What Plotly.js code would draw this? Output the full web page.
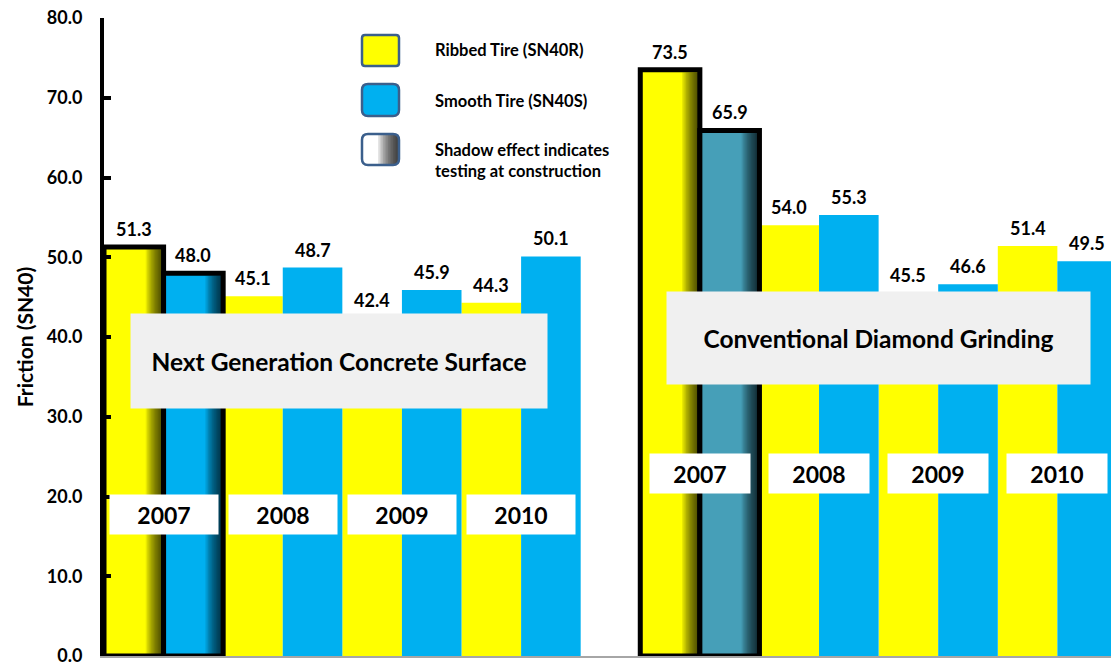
<!DOCTYPE html>
<html><head><meta charset="utf-8">
<script src="https://cdn.plot.ly/plotly-3.0.1.min.js"></script>
<style>html,body{margin:0;padding:0;overflow:hidden;background:#fff}</style>
</head><body><div id="chart" style="width:1111px;height:665px"></div>
<script>
const years = ['2007', '2008', '2009', '2010'];
const ngcsRibbed = [51.3, 45.1, 42.4, 44.3];
const ngcsSmooth = [48.0, 48.7, 45.9, 50.1];
const cdgRibbed = [73.5, 54.0, 45.5, 51.4];
const cdgSmooth = [65.9, 55.3, 46.6, 49.5];
const groupNames = ['Next Generation Concrete Surface', 'Conventional Diamond Grinding'];
const legendLabels = ['Ribbed Tire (SN40R)', 'Smooth Tire (SN40S)', 'Shadow effect indicates<br>testing at construction'];

const FONT = 'Lato, "Open Sans", sans-serif';
const YELLOW = '#ffff00', BLUE = '#00b0f0', TEAL = '#469fb8';
// plot geometry (pixels) for paper conversion
const L = 104, T = 18, W = 1007, H = 638;
const px = x => (x - L) / W;
const py = y => (T + H - y) / H;

const groups = [
  {ribbed: ngcsRibbed, smooth: ngcsSmooth, base: 0, smoothColors: [BLUE, BLUE, BLUE, BLUE]},
  {ribbed: cdgRibbed, smooth: cdgSmooth, base: 9, smoothColors: [TEAL, BLUE, BLUE, BLUE]}
];

const traces = [];
const annotations = [];
groups.forEach((g, gi) => {
  const xr = years.map((_, i) => g.base + 2 * i);
  const xs = years.map((_, i) => g.base + 2 * i + 1);
  const lw = years.map((_, i) => i === 0 ? 5 : 0);
  traces.push({type: 'bar', x: xr, y: g.ribbed, width: 1, marker: {color: YELLOW, line: {color: '#000', width: lw}}, hoverinfo: 'skip'});
  traces.push({type: 'bar', x: xs, y: g.smooth, width: 1, marker: {color: g.smoothColors, line: {color: '#000', width: lw}}, hoverinfo: 'skip'});
  // shadow effect on first-year (construction) bars
  [[xr[0], g.ribbed[0]], [xs[0], g.smooth[0]]].forEach(([x, v]) => {
    const n = 12;
    for (let k = 1; k <= n; k++) {
      const w = 0.27 * k / n;
      traces.push({type: 'bar', x: [x], y: [v - 0.3], width: w, offset: 0.5 - w - 0.03,
        marker: {color: 'rgba(0,0,0,0.085)', line: {width: 0}}, hoverinfo: 'skip'});
    }
  });
  // value labels
  years.forEach((yr, i) => {
    annotations.push({x: xr[i], y: g.ribbed[i], text: g.ribbed[i].toFixed(1), showarrow: false, yanchor: 'bottom', xanchor: 'center', yshift: 5, font: {size: 18}});
    annotations.push({x: xs[i], y: g.smooth[i], text: g.smooth[i].toFixed(1), showarrow: false, yanchor: 'bottom', xanchor: 'center', yshift: 5, font: {size: 18}});
    annotations.push({x: g.base + 2 * i + 0.5, y: gi === 0 ? 17.8 : 22.9, text: yr, showarrow: false,
      bgcolor: '#ffffff', width: gi === 0 ? 106 : 98, height: 37, font: {size: 23}, xanchor: 'center', yanchor: 'middle'});
  });
});

// group title boxes
annotations.push({xref: 'paper', yref: 'paper', x: px(339), y: py(361), xanchor: 'center', yanchor: 'middle', text: groupNames[0], showarrow: false,
  bgcolor: '#f0f0f0', width: 414, height: 92, font: {size: 24.5}});
annotations.push({xref: 'paper', yref: 'paper', x: px(878.5), y: py(338), xanchor: 'center', yanchor: 'middle', text: groupNames[1], showarrow: false,
  bgcolor: '#f0f0f0', width: 421, height: 90, font: {size: 24.5}});

// legend text
annotations.push({xref: 'paper', yref: 'paper', x: px(433), y: py(50), xanchor: 'left', yanchor: 'middle', text: legendLabels[0], showarrow: false, font: {size: 16.5}});
annotations.push({xref: 'paper', yref: 'paper', x: px(433), y: py(101), xanchor: 'left', yanchor: 'middle', text: legendLabels[1], showarrow: false, font: {size: 16.5}});
annotations.push({xref: 'paper', yref: 'paper', x: px(433), y: py(160), xanchor: 'left', yanchor: 'middle', align: 'left', text: legendLabels[2], showarrow: false, font: {size: 16.5}});

function roundRect(x0, y0, x1, y1, r) {
  const X = v => px(v), Y = v => py(v);
  return `M${X(x0 + r)},${Y(y0)} L${X(x1 - r)},${Y(y0)} Q${X(x1)},${Y(y0)} ${X(x1)},${Y(y0 + r)} ` +
    `L${X(x1)},${Y(y1 - r)} Q${X(x1)},${Y(y1)} ${X(x1 - r)},${Y(y1)} L${X(x0 + r)},${Y(y1)} ` +
    `Q${X(x0)},${Y(y1)} ${X(x0)},${Y(y1 - r)} L${X(x0)},${Y(y0 + r)} Q${X(x0)},${Y(y0)} ${X(x0 + r)},${Y(y0)} Z`;
}
const shapes = [];
shapes.push({type: 'path', xref: 'paper', yref: 'paper', path: roundRect(362, 35, 399, 66, 3), fillcolor: YELLOW, line: {color: '#3b5f8c', width: 2.5}});
shapes.push({type: 'path', xref: 'paper', yref: 'paper', path: roundRect(362, 84, 399, 116, 6), fillcolor: BLUE, line: {color: '#3b5f8c', width: 2.5}});
shapes.push({type: 'path', xref: 'paper', yref: 'paper', path: roundRect(362, 134, 399, 165, 6), fillcolor: '#ffffff', line: {width: 0}});
for (let k = 1; k <= 12; k++) {
  const w = 20 * k / 12;
  shapes.push({type: 'rect', xref: 'paper', yref: 'paper', x0: px(398 - w), x1: px(398), y0: py(164), y1: py(135),
    fillcolor: 'rgba(0,0,0,0.1)', line: {width: 0}});
}
shapes.push({type: 'path', xref: 'paper', yref: 'paper', path: roundRect(362, 134, 399, 165, 6), fillcolor: 'rgba(0,0,0,0)', line: {color: '#3b5f8c', width: 2.5}});

const layout = {
  width: 1111, height: 665,
  margin: {l: L, r: 0, t: T, b: 665 - T - H, pad: 0},
  paper_bgcolor: '#fff', plot_bgcolor: '#fff',
  font: {family: FONT, color: '#000', weight: 'bold'},
  barmode: 'overlay', showlegend: false,
  xaxis: {range: [-0.5, 16.4], showticklabels: false, ticks: '', showgrid: false, zeroline: false,
    showline: true, linecolor: '#a6a6a6', linewidth: 2, fixedrange: true},
  yaxis: {range: [0, 80], dtick: 10, tick0: 0, tickformat: '.1f', ticks: 'inside', ticklen: 7, tickwidth: 4,
    tickcolor: '#000', showline: true, linecolor: '#000', linewidth: 4, showgrid: false, zeroline: false,
    ticklabelstandoff: 14, ticklabeloverflow: 'allow', tickfont: {size: 18, family: FONT, weight: 'bold'},
    title: {text: 'Friction (SN40)', font: {size: 21, family: FONT, weight: 'bold'}, standoff: 8}, fixedrange: true},
  annotations: annotations,
  shapes: shapes
};
Plotly.newPlot('chart', traces, layout, {displayModeBar: false, staticPlot: true});
</script></body></html>
